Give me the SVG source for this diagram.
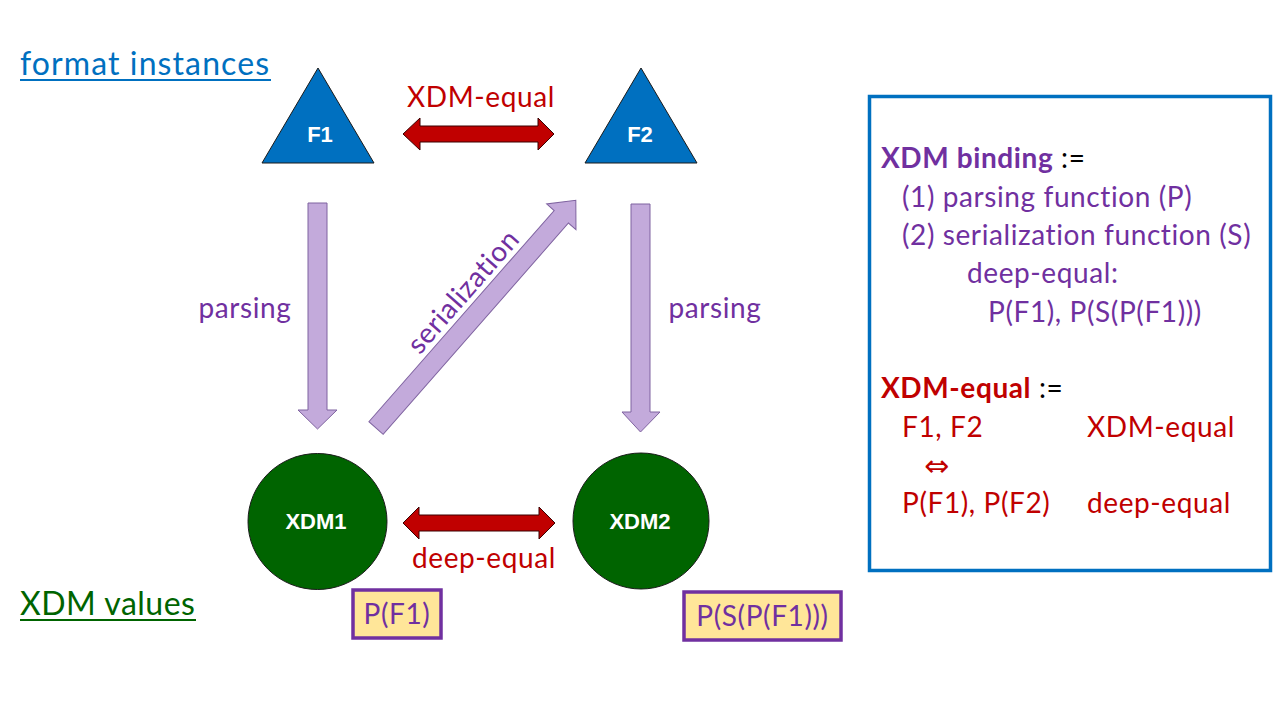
<svg xmlns="http://www.w3.org/2000/svg" width="1280" height="720" viewBox="0 0 1280 720">
<style>
.t{font-family:Lato,"Open Sans","Liberation Sans",sans-serif;font-size:28px;letter-spacing:0.6px}
.pur{fill:#7030A0}
.red{fill:#C00000}
.lbl{font-family:"Liberation Sans",Arial,sans-serif;font-weight:bold;font-size:22px;fill:#fff;text-anchor:middle}
.tri{fill:#0070C0;stroke:#1a1a1a;stroke-width:1}
.circ{fill:#006400;stroke:#1a1a1a;stroke-width:1}
.parr{fill:#C3AADB;stroke:#7F63A0;stroke-width:1}
.rarr{fill:#C00000;stroke:#3a0000;stroke-width:1}
.box{fill:#FFE699;stroke:#7030A0;stroke-width:3.5}
</style>
<rect width="1280" height="720" fill="#fff"/>

<g id="title-format">
<text x="20" y="75" class="t" style="font-size:32px;letter-spacing:1.1px;fill:#0070C0">format instances</text>
<line x1="20" y1="80" x2="271" y2="80" stroke="#0070C0" stroke-width="2"/>
</g>
<g id="title-xdm">
<text x="20" y="615" class="t" style="font-size:32px;letter-spacing:0.5px;fill:#006400">XDM values</text>
<line x1="20" y1="620" x2="196" y2="620" stroke="#006400" stroke-width="2"/>
</g>

<g id="connectors">
<path class="rarr" d="M403,134 L420,118 L420,126 L538,126 L538,118 L554,134 L538,150 L538,142 L420,142 L420,150 Z"/>
<path class="rarr" d="M403,523 L419,507 L419,515 L539,515 L539,507 L555,523 L539,539 L539,531 L419,531 L419,539 Z"/>
<path class="parr" d="M308,203 L327,203 L327,410 L337,410 L317.5,429 L298,410 L308,410 Z"/>
<path class="parr" d="M631,204 L650,204 L650,412 L660,412 L640.5,432 L622,412 L631,412 Z"/>
<path class="parr" transform="translate(376,428) rotate(-48.74)" d="M0,-9.5 L281,-9.5 L281,-19.5 L303,0 L281,19.5 L281,9.5 L0,9.5 Z"/>
<text class="t red" x="481" y="107" text-anchor="middle">XDM-equal</text>
<text class="t red" x="484" y="568" text-anchor="middle">deep-equal</text>
<text class="t pur" x="245" y="318" text-anchor="middle">parsing</text>
<text class="t pur" x="715" y="318" text-anchor="middle">parsing</text>
<text class="t pur" text-anchor="middle" transform="translate(376,428) rotate(-48.74) translate(160,-15)">serialization</text>
</g>

<g id="F1">
<polygon class="tri" points="318,68 374,163 262,163"/>
<text class="lbl" x="320" y="142">F1</text>
</g>
<g id="F2">
<polygon class="tri" points="641,68 697,163 585,163"/>
<text class="lbl" x="640" y="142">F2</text>
</g>
<g id="XDM1">
<ellipse class="circ" cx="317.5" cy="521.5" rx="69.5" ry="68"/>
<text class="lbl" x="316" y="529">XDM1</text>
</g>
<g id="XDM2">
<ellipse class="circ" cx="641" cy="521" rx="68" ry="68"/>
<text class="lbl" x="640" y="529">XDM2</text>
</g>
<g id="PF1">
<rect class="box" x="353" y="590" width="88" height="48"/>
<text class="t pur" x="397" y="624" text-anchor="middle">P(F1)</text>
</g>
<g id="PSPF1">
<rect class="box" x="684" y="592" width="157" height="48"/>
<text class="t pur" x="762.5" y="626" text-anchor="middle">P(S(P(F1)))</text>
</g>

<g id="definition-box">
<rect x="869.5" y="96.5" width="401" height="474" fill="#fff" stroke="#0070C0" stroke-width="3.5"/>
<text class="t" x="881" y="168"><tspan class="pur" font-weight="bold">XDM binding</tspan><tspan fill="#000"> :=</tspan></text>
<text class="t pur" x="902" y="207">(1) parsing function (P)</text>
<text class="t pur" x="902" y="245">(2) serialization function (S)</text>
<text class="t pur" x="967" y="283">deep-equal:</text>
<text class="t pur" x="988" y="322">P(F1), P(S(P(F1)))</text>
<text class="t" x="881" y="398"><tspan class="red" font-weight="bold">XDM-equal</tspan><tspan fill="#000"> :=</tspan></text>
<text class="t red" x="902" y="437">F1, F2</text>
<text class="t red" x="1087" y="437">XDM-equal</text>
<text class="red" x="924" y="476" style="font-family:'DejaVu Sans',sans-serif;font-size:30px">⇔</text>
<text class="t red" x="902" y="513">P(F1), P(F2)</text>
<text class="t red" x="1087" y="513">deep-equal</text>
</g>
</svg>
